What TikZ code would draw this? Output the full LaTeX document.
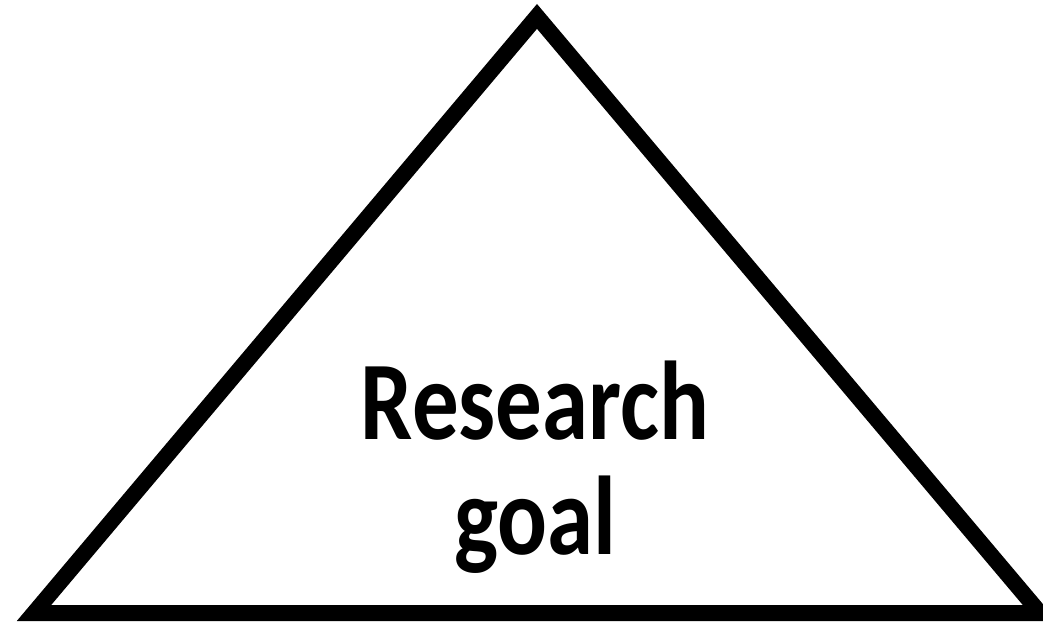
\documentclass[tikz,border=0pt]{standalone}
\usepackage{fontspec}
\setmainfont{Carlito}
\newfontfamily\goalfont[FakeStretch=0.83]{Carlito}

\begin{document}
\begin{tikzpicture}[x=0.75pt,y=-0.75pt,line join=miter]
\useasboundingbox (0,0) rectangle (1043,622);
% goal triangle
\coordinate (top) at (537,16.4);
\coordinate (left) at (34,613);
\coordinate (right) at (1040,613);
\draw[line width=12pt] (top) -- (left) -- (right) -- cycle;
\node[font=\goalfont\bfseries\fontsize{84}{86}\selectfont,align=center,anchor=base,inner sep=0pt] (goal) at (535,554) {Research\\goal};
\end{tikzpicture}
\end{document}
